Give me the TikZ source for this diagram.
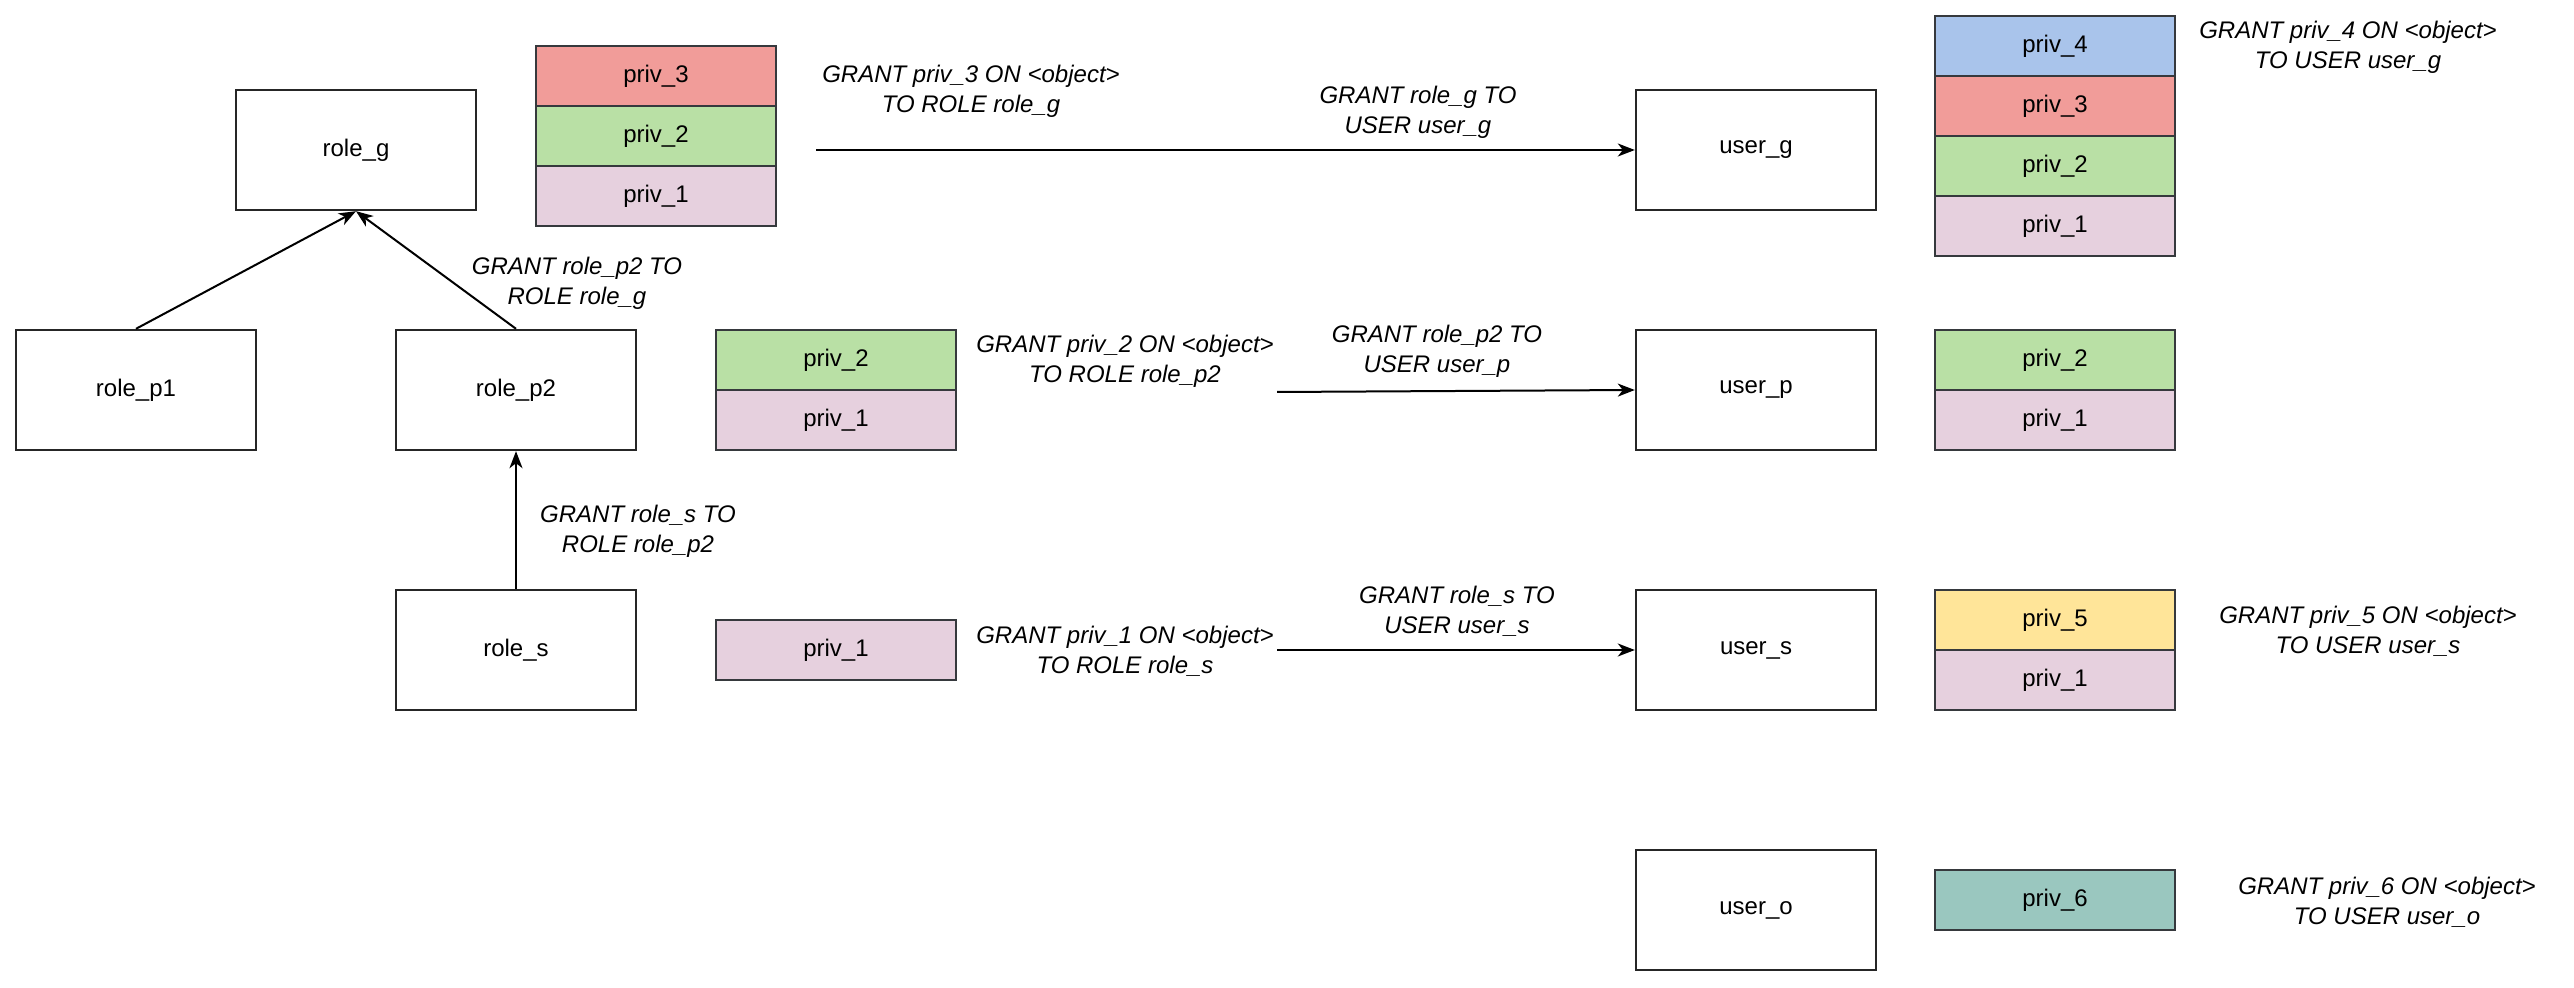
\documentclass[tikz,border=0pt]{standalone}
\usepackage{fontspec}
\setmainfont{Liberation Sans}
\usetikzlibrary{arrows.meta}
\definecolor{cred}{HTML}{F19C99}
\definecolor{cgreen}{HTML}{B9E0A5}
\definecolor{cpink}{HTML}{E6D0DE}
\definecolor{cblue}{HTML}{A9C4EB}
\definecolor{cyellow}{HTML}{FFE599}
\definecolor{cteal}{HTML}{9AC7BF}
\definecolor{cstroke}{HTML}{36393D}
\begin{document}
\begin{tikzpicture}[x=0.5pt,y=-0.5pt,
  box/.style={draw=black!85, line width=1.2pt, fill=white, minimum width=120pt, minimum height=60pt, inner sep=0pt, font=\fontsize{12}{14}\selectfont},
  priv/.style={draw=cstroke, line width=1.2pt, fill=#1, minimum width=120pt, minimum height=30pt, inner sep=0pt, font=\fontsize{12}{14}\selectfont},
  lbl/.style={align=center, inner sep=0pt, font=\itshape\fontsize{12}{15}\selectfont},
  arr/.style={-{Stealth[length=8.5pt,width=6.5pt,inset=2.5pt]}, line width=1pt, draw=black}]
\useasboundingbox (0,0) rectangle (2574,988);
% main boxes
\node[box] (role_g) at (356,150) {role\_g};
\node[box] (role_p1) at (136,390) {role\_p1};
\node[box] (role_p2) at (516,390) {role\_p2};
\node[box] (role_s) at (516,650) {role\_s};
\node[box] (user_g) at (1756,150) {user\_g};
\node[box] (user_p) at (1756,390) {user\_p};
\node[box] (user_s) at (1756,650) {user\_s};
\node[box] (user_o) at (1756,910) {user\_o};
% privilege stacks
\node[priv=cred] (a3) at (656,76) {priv\_3};
\node[priv=cgreen] (a2) at (656,136) {priv\_2};
\node[priv=cpink] (a1) at (656,196) {priv\_1};
\node[priv=cgreen] (b2) at (836,360) {priv\_2};
\node[priv=cpink] (b1) at (836,420) {priv\_1};
\node[priv=cpink] (c1) at (836,650) {priv\_1};
\node[priv=cblue] (d4) at (2055,46) {priv\_4};
\node[priv=cred] (d3) at (2055,106) {priv\_3};
\node[priv=cgreen] (d2) at (2055,166) {priv\_2};
\node[priv=cpink] (d1) at (2055,226) {priv\_1};
\node[priv=cgreen] (e2) at (2055,360) {priv\_2};
\node[priv=cpink] (e1) at (2055,420) {priv\_1};
\node[priv=cyellow] (f5) at (2055,620) {priv\_5};
\node[priv=cpink] (f1) at (2055,680) {priv\_1};
\node[priv=cteal] (g6) at (2055,900) {priv\_6};
% labels
\node[lbl] (l1) at (577,283) {GRANT role\_p2 TO\\ROLE role\_g};
\node[lbl] (l2) at (971,91) {GRANT priv\_3 ON <object>\\TO ROLE role\_g};
\node[lbl] (l3) at (1418,112) {GRANT role\_g TO\\USER user\_g};
\node[lbl] (l4) at (1125,361) {GRANT priv\_2 ON <object>\\TO ROLE role\_p2};
\node[lbl] (l5) at (1437,351) {GRANT role\_p2 TO\\USER user\_p};
\node[lbl] (l6) at (2348,47) {GRANT priv\_4 ON <object>\\TO USER user\_g};
\node[lbl] (l7) at (638,531) {GRANT role\_s TO\\ROLE role\_p2};
\node[lbl] (l8) at (1125,651) {GRANT priv\_1 ON <object>\\TO ROLE role\_s};
\node[lbl] (l9) at (1457,611) {GRANT role\_s TO\\USER user\_s};
\node[lbl] (l10) at (2368,631) {GRANT priv\_5 ON <object>\\TO USER user\_s};
\node[lbl] (l11) at (2387,902) {GRANT priv\_6 ON <object>\\TO USER user\_o};
% connector free ends
\coordinate (s1) at (816,150);
\coordinate (s2) at (1277,392);
\coordinate (s3) at (1277,650);
% connectors
\draw[arr] (role_p1.north) -- (role_g.south);
\draw[arr] (role_p2.north) -- (role_g.south);
\draw[arr] (role_s.north) -- (role_p2.south);
\draw[arr] (s1) -- (user_g.west);
\draw[arr] (s2) -- (user_p.west);
\draw[arr] (s3) -- (user_s.west);
\end{tikzpicture}
\end{document}
